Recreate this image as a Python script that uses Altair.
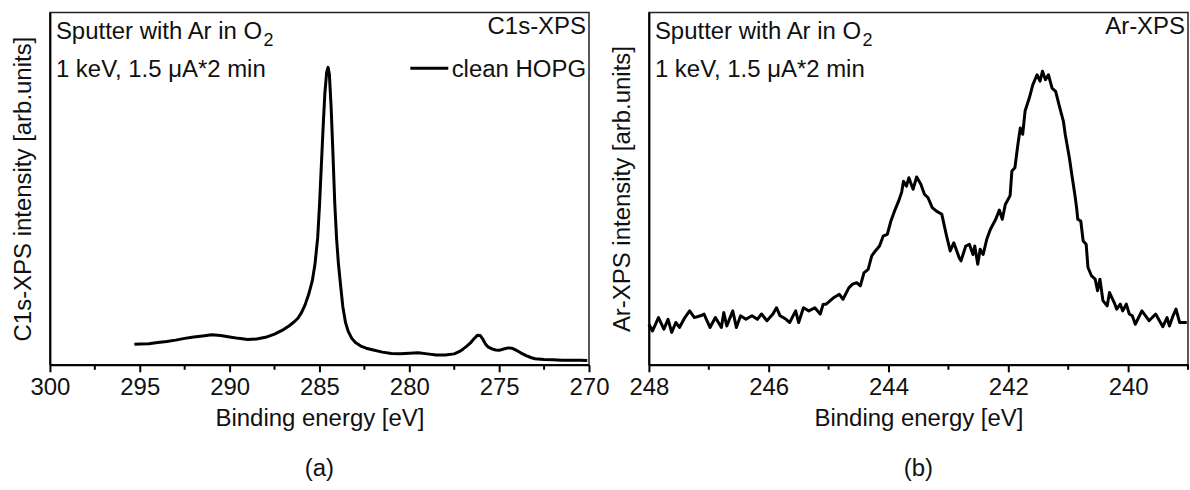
import altair as alt
import pandas as pd

FONT = "Liberation Sans"

# ---------------- Panel (a): C1s-XPS ----------------
c1s_energy = [295.3, 295.0, 294.5, 294.0, 293.5, 293.0, 292.5, 292.0, 291.5, 291.0,
              290.5, 290.0, 289.5, 289.0, 288.5, 288.0, 287.5, 287.0, 286.7, 286.4,
              286.2, 286.0, 285.8, 285.6, 285.4, 285.25, 285.1, 285.0, 284.9, 284.8,
              284.7, 284.6, 284.52, 284.45, 284.35, 284.25, 284.15, 284.05, 283.95, 283.85,
              283.7, 283.55, 283.4, 283.2, 283.0, 282.7, 282.4, 282.0, 281.5, 281.0,
              280.5, 280.0, 279.5, 279.0, 278.5, 278.0, 277.5, 277.2, 277.0, 276.8,
              276.6, 276.4, 276.2, 276.05, 275.9, 275.75, 275.6, 275.4, 275.2, 275.0,
              274.8, 274.5, 274.3, 274.0, 273.8, 273.5, 273.2, 273.0, 272.5, 272.0,
              271.5, 271.0, 270.5, 270.1]
c1s_intensity = [5.8, 5.9, 6.0, 6.3, 6.6, 7.0, 7.5, 7.9, 8.2, 8.5,
                 8.3, 7.9, 7.5, 7.2, 7.3, 7.8, 8.7, 10.0, 11.0, 12.2,
                 13.2, 14.8, 17.0, 20.0, 23.8, 28.5, 36.0, 45.0, 56.0, 67.0,
                 77.0, 83.0, 84.4, 82.5, 73.0, 60.0, 46.0, 36.0, 29.0, 23.8,
                 16.5, 12.0, 9.5, 7.5, 6.3, 5.3, 4.7, 4.2, 3.6, 3.2,
                 3.1, 3.3, 3.4, 3.1, 2.8, 2.8, 3.1, 3.8, 4.5, 5.3,
                 6.2, 7.4, 8.4, 8.3, 7.2, 5.8, 5.0, 4.5, 4.2, 4.1,
                 4.4, 4.8, 4.7, 4.0, 3.4, 2.6, 2.0, 1.7, 1.5, 1.4,
                 1.3, 1.3, 1.3, 1.2]

# ---------------- Panel (b): Ar-XPS ----------------
ar_energy = [248.00, 247.94, 247.84, 247.75, 247.68, 247.62, 247.55, 247.49, 247.40, 247.32,
             247.24, 247.14, 247.08, 246.98, 246.89, 246.79, 246.75, 246.70, 246.60, 246.54,
             246.47, 246.38, 246.28, 246.19, 246.12, 246.03, 245.93, 245.87, 245.81, 245.71,
             245.65, 245.55, 245.50, 245.42, 245.33, 245.23, 245.14, 245.09, 245.04, 244.91,
             244.82, 244.76, 244.66, 244.60, 244.53, 244.47, 244.41, 244.34, 244.28, 244.22,
             244.15, 244.09, 244.02, 243.96, 243.90, 243.83, 243.78, 243.75, 243.70, 243.66,
             243.59, 243.53, 243.46, 243.40, 243.34, 243.27, 243.20, 243.11, 243.03, 242.97,
             242.91, 242.82, 242.79, 242.71, 242.65, 242.59, 242.56, 242.51, 242.47, 242.42,
             242.36, 242.30, 242.21, 242.15, 242.10, 242.05, 241.97, 241.94, 241.89, 241.84,
             241.80, 241.76, 241.72, 241.65, 241.59, 241.52, 241.47, 241.43, 241.38, 241.33,
             241.27, 241.21, 241.14, 241.08, 241.05, 240.98, 240.94, 240.89, 240.86, 240.84,
             240.79, 240.75, 240.70, 240.67, 240.61, 240.55, 240.51, 240.47, 240.42, 240.35,
             240.31, 240.23, 240.19, 240.13, 240.09, 240.03, 239.98, 239.93, 239.88, 239.77,
             239.65, 239.54, 239.42, 239.35, 239.31, 239.25, 239.20, 239.14, 239.02]
ar_intensity = [11.5, 9.6, 13.4, 10.1, 12.9, 9.2, 12.0, 10.6, 13.4, 15.3,
                13.4, 13.9, 14.4, 10.6, 13.4, 10.6, 14.8, 11.0, 15.3, 10.6,
                13.9, 12.9, 13.9, 12.9, 14.4, 12.5, 14.4, 16.2, 13.9, 12.9,
                12.0, 15.3, 12.0, 16.2, 15.3, 16.2, 14.4, 17.2, 17.2, 19.1,
                20.0, 18.6, 21.9, 22.9, 23.3, 22.4, 26.1, 27.1, 30.9, 32.3,
                33.7, 36.5, 37.0, 40.8, 43.6, 46.5, 49.0, 52.1, 50.7, 53.1,
                49.8, 53.3, 51.2, 48.4, 47.4, 44.6, 43.6, 42.7, 36.5, 32.3,
                34.6, 30.4, 29.5, 33.7, 34.2, 31.3, 33.7, 28.5, 32.8, 31.3,
                35.6, 38.4, 41.3, 43.9, 41.3, 45.5, 48.0, 55.0, 55.9, 62.5,
                67.2, 65.4, 72.0, 75.7, 79.5, 82.3, 80.5, 83.3, 80.9, 82.3,
                78.5, 77.6, 72.9, 69.1, 65.4, 58.7, 54.0, 48.4, 44.6, 41.3,
                40.8, 35.1, 34.2, 27.6, 25.2, 24.3, 21.0, 24.3, 18.2, 16.7,
                20.5, 17.6, 15.8, 17.2, 15.3, 17.2, 14.4, 13.9, 11.5, 15.3,
                12.5, 14.4, 10.8, 13.4, 11.0, 13.9, 15.8, 12.0, 12.0]

# ---------------- axes / labels ----------------
a_domain = [270, 300]
a_major = [300, 295, 290, 285, 280, 275, 270]
a_minor = [297.5, 292.5, 287.5, 282.5, 277.5, 272.5]
b_domain = [239, 248]
b_major = [248, 246, 244, 242, 240]
b_minor = [247, 245, 243, 241, 239]

x_title = "Binding energy [eV]"
a_y_title = "C1s-XPS intensity [arb.units]"
b_y_title = "Ar-XPS intensity [arb.units]"
line1_main = ["Sputter with Ar in O"]
line1_sub = ["2"]
line2 = ["1 keV, 1.5 \u03bcA*2 min"]
a_tag = ["C1s-XPS"]
b_tag = ["Ar-XPS"]
a_legend = ["clean HOPG"]
a_panel = ["(a)"]
b_panel = ["(b)"]

W, H = 540, 353


def txt(values, x, y, align="left", size=24, baseline="alphabetic"):
    return alt.Chart(pd.DataFrame({"t": values})).mark_text(
        font=FONT, fontSize=size, align=align, baseline=baseline, color="#111111"
    ).encode(text="t:N", x=alt.value(x), y=alt.value(y))


def panel(energy, intensity, xdom, major, minor, ytitle, tag, plabel, legend=None):
    df = pd.DataFrame({"E": energy, "I": intensity})
    xscale = alt.Scale(domain=xdom, reverse=True, nice=False, zero=False)
    xaxis = alt.Axis(values=major, title=x_title, labelFlush=False,
                     labelOverlap=False, grid=False)
    line = alt.Chart(df).mark_line(color="black", strokeWidth=3, strokeJoin="round").encode(
        x=alt.X("E:Q", scale=xscale, axis=xaxis),
        y=alt.Y("I:Q", scale=alt.Scale(domain=[0, 100], nice=False, zero=False),
                axis=alt.Axis(title=ytitle, labels=False, ticks=False, grid=False)),
    )
    minor_rule = alt.Chart(pd.DataFrame({"E": minor})).mark_rule(
        color="black", strokeWidth=2
    ).encode(x=alt.X("E:Q", scale=xscale, axis=xaxis), y=alt.value(H), y2=alt.value(H + 5))
    layers = [
        line,
        minor_rule,
        txt(line1_main, 6, 27),
        txt(line1_sub, 214, 34, size=18),
        txt(line2, 6, 65),
        txt(tag, 537, 22, align="right"),
        txt(plabel, W / 2, 457, align="center", baseline="middle"),
    ]
    if legend is not None:
        layers.append(
            alt.Chart(pd.DataFrame({"t": legend})).mark_rule(color="black", strokeWidth=3).encode(
                x=alt.value(361), x2=alt.value(399), y=alt.value(56)
            )
        )
        layers.append(txt(legend, 537, 65, align="right"))
    return alt.layer(*layers).properties(width=W, height=H)


pa = panel(c1s_energy, c1s_intensity, a_domain, a_major, a_minor, a_y_title, a_tag, a_panel, a_legend)
pb = panel(ar_energy, ar_intensity, b_domain, b_major, b_minor, b_y_title, b_tag, b_panel)

chart = (
    alt.hconcat(pa, pb, spacing=60, bounds="flush")
    .properties(padding={"left": 11, "top": 11, "right": 0, "bottom": 0})
    .configure_view(stroke="#222222", strokeWidth=1.5)
    .configure_axis(
        domainColor="black", domainWidth=2, tickColor="black", tickWidth=2, tickSize=7,
        labelFont=FONT, labelFontSize=24, labelColor="#111111", labelPadding=4,
        titleFont=FONT, titleFontSize=24, titleFontWeight="normal", titleColor="#111111",
    )
    .configure_axisX(titlePadding=7)
    .configure_axisY(titlePadding=14)
)

chart.save("out.html", embed_options={"renderer": "svg", "actions": False})
